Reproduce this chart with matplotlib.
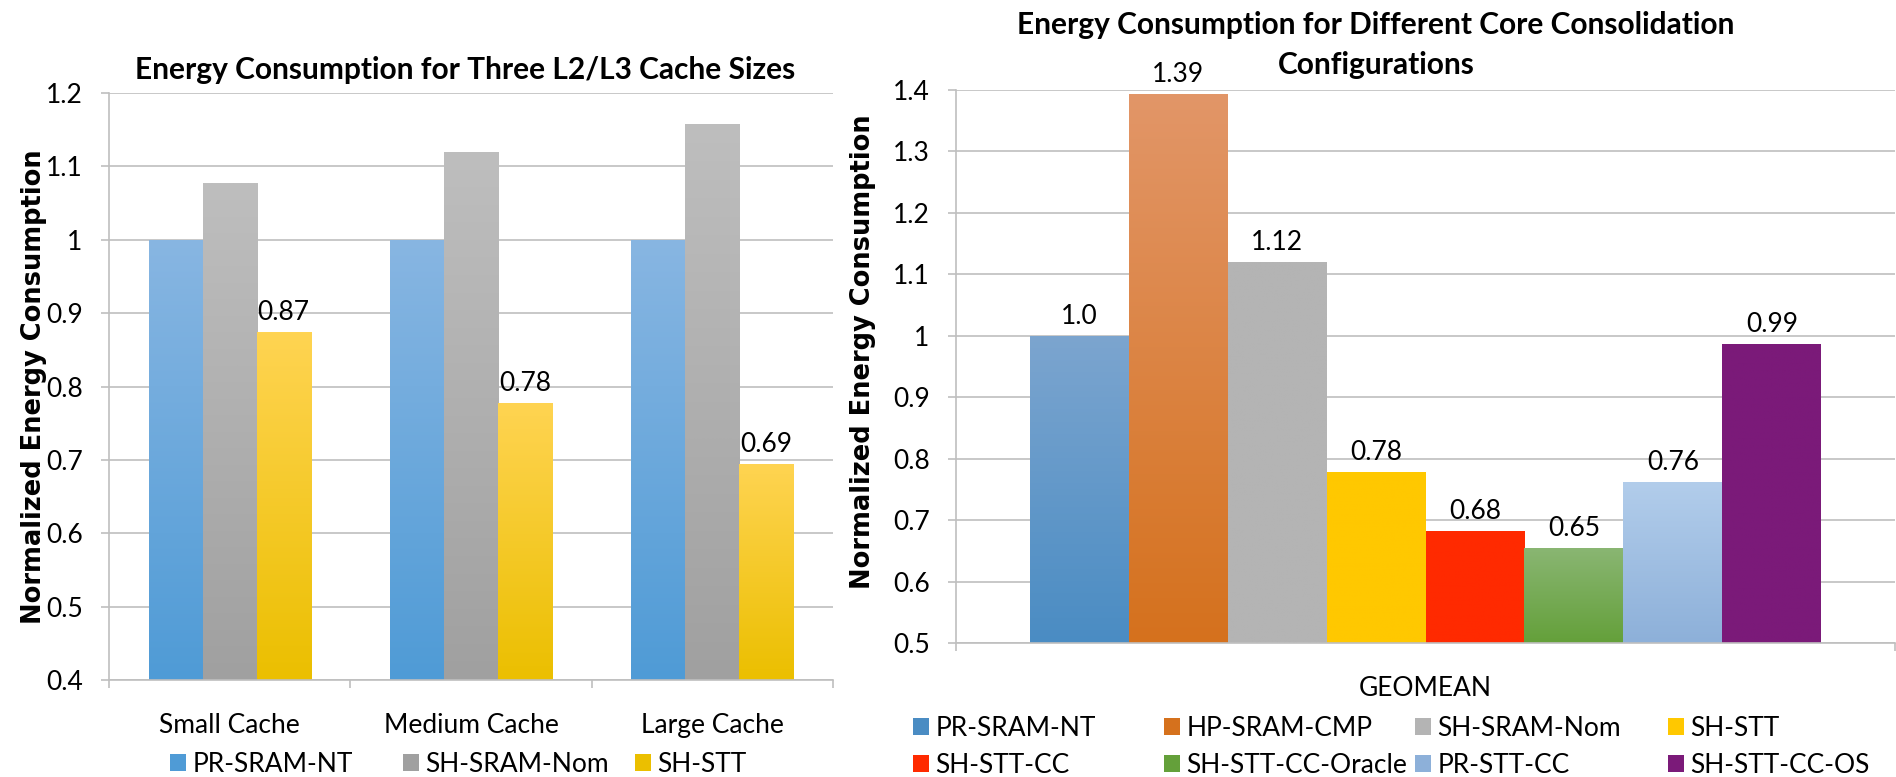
import numpy as np
import matplotlib
matplotlib.use("Agg")
import matplotlib.pyplot as plt
from matplotlib.colors import LinearSegmentedColormap
from matplotlib.patches import Patch
from matplotlib.ticker import MultipleLocator, FuncFormatter

plt.rcParams["font.family"] = ["Lato", "DejaVu Sans"]

# ---- left chart data ----
cache_sizes = ["Small Cache", "Medium Cache", "Large Cache"]
left_series = ["PR-SRAM-NT", "SH-SRAM-Nom", "SH-STT"]
pr_sram_nt = [1.0, 1.0, 1.0]
sh_sram_nom = [1.077, 1.120, 1.158]
sh_stt = [0.874, 0.778, 0.695]
sh_stt_labels = ["0.87", "0.78", "0.69"]

# ---- right chart data ----
configs = ["PR-SRAM-NT", "HP-SRAM-CMP", "SH-SRAM-Nom", "SH-STT",
           "SH-STT-CC", "SH-STT-CC-Oracle", "PR-STT-CC", "SH-STT-CC-OS"]
geomean = [1.0, 1.393, 1.12, 0.779, 0.683, 0.655, 0.762, 0.987]
geomean_labels = ["1.0", "1.39", "1.12", "0.78", "0.68", "0.65", "0.76", "0.99"]

# (top colour, bottom colour) per series
left_colors = [("#88b6e2", "#4f9bd6"), ("#bebebe", "#a0a0a0"), ("#ffd452", "#ebbf00")]
right_colors = [("#7ca5cf", "#4a8cc3"), ("#e29668", "#d5711d"), ("#b4b4b4", "#b4b4b4"),
                ("#ffc800", "#ffc800"), ("#ff2a00", "#ff2a00"), ("#8ab673", "#64a03a"),
                ("#b2cdeb", "#8db0d9"), ("#7b1a79", "#7b1a79")]

GRID = "#bfbfbf"
TICK_FS = 19
YLAB_FS = 18.5


def grad_fill(ax, bars, top, bottom):
    cmap = LinearSegmentedColormap.from_list("g", [bottom, top])
    grad = np.linspace(0, 1, 256).reshape(-1, 1)
    for p in bars:
        x, y = p.get_xy()
        w, h = p.get_width(), p.get_height()
        im = ax.imshow(grad, extent=[x, x + w, y, y + h], origin="lower",
                       cmap=cmap, aspect="auto", zorder=p.get_zorder() + 0.1)
        im.set_clip_path(p)


def tick_fmt(v, _):
    if abs(v - round(v)) < 1e-9:
        return f"{int(round(v))}"
    return f"{v:.1f}"


def style_axes(ax, ymin, ymax, ncat):
    ax.set_ylim(ymin, ymax)
    ax.set_xlim(-0.5, ncat - 0.5)
    ax.yaxis.set_major_locator(MultipleLocator(0.1))
    ax.yaxis.set_major_formatter(FuncFormatter(tick_fmt))
    ax.grid(axis="y", color=GRID, linewidth=1.2, zorder=0)
    ax.set_axisbelow(True)
    for s in ("top", "right"):
        ax.spines[s].set_visible(False)
    for s in ("left", "bottom"):
        ax.spines[s].set_color(GRID)
        ax.spines[s].set_linewidth(1.2)
    ax.tick_params(axis="y", direction="out", length=6, width=1.2, color=GRID,
                   labelsize=TICK_FS, pad=13)
    ax.set_xticks(range(ncat))
    ax.tick_params(axis="x", which="major", length=0, labelsize=TICK_FS, pad=24)
    ax.set_xticks(np.arange(-0.5, ncat, 1.0), minor=True)
    ax.tick_params(axis="x", which="minor", direction="out", length=6, width=1.2, color=GRID)


fig = plt.figure(figsize=(18.96, 7.77), dpi=100)

# ---------------- left ----------------
axl = fig.add_axes([0.0575, 0.1248, 0.4393 - 0.0575, 0.8803 - 0.1248])
ymin_l = 0.4
x = np.arange(len(cache_sizes))
w = 0.224
left_vals = [pr_sram_nt, sh_sram_nom, sh_stt]
left_bars = []
for i, (vals, (c_top, c_bot)) in enumerate(zip(left_vals, left_colors)):
    b = axl.bar(x + (i - 1) * w, np.array(vals) - ymin_l, w, bottom=ymin_l,
                color=c_top, zorder=2, linewidth=0)
    grad_fill(axl, b, c_top, c_bot)
    left_bars.append(b)
axl.bar_label(left_bars[2], labels=sh_stt_labels, padding=5, fontsize=TICK_FS, zorder=5)
style_axes(axl, 0.4, 1.2, len(cache_sizes))
axl.set_xticklabels(cache_sizes)
axl.set_ylabel("Normalized Energy Consumption", fontsize=YLAB_FS, fontweight="bold",
               family="DejaVu Sans")
axl.yaxis.set_label_coords(-0.085, 0.5)
fig.text(0.2453, 0.91, "Energy Consumption for Three L2/L3 Cache Sizes",
         ha="center", va="center", fontsize=21.5, fontweight="bold")

leg_x_left = [170, 403, 635]
for name, (c_top, c_bot), xp in zip(left_series, left_colors, leg_x_left):
    fig.legend(handles=[Patch(facecolor=c_bot, edgecolor="none", label=name)],
               loc="center left", bbox_to_anchor=(xp / 1896, 1 - 764 / 777),
               frameon=False, fontsize=TICK_FS, handlelength=0.6, handleheight=0.6,
               handletextpad=0.25, borderpad=0, borderaxespad=0)

# ---------------- right ----------------
axr = fig.add_axes([0.5042, 0.1725, 0.9995 - 0.5042, 0.8842 - 0.1725])
ymin_r = 0.5
wr = 0.1054
n = len(configs)
offsets = (np.arange(n) - (n - 1) / 2) * wr
for i in range(n):
    c_top, c_bot = right_colors[i]
    b = axr.bar([offsets[i]], [geomean[i] - ymin_r], wr, bottom=ymin_r,
                color=c_top, zorder=2, linewidth=0)
    grad_fill(axr, b, c_top, c_bot)
    axr.bar_label(b, labels=[geomean_labels[i]], padding=5, fontsize=TICK_FS, zorder=5)
style_axes(axr, 0.5, 1.4, 1)
axr.set_xticklabels(["GEOMEAN"])
axr.set_ylabel("Normalized Energy Consumption", fontsize=YLAB_FS, fontweight="bold",
               family="DejaVu Sans")
axr.yaxis.set_label_coords(-0.085, 0.526)
fig.text(0.7257, 1 - 25 / 777, "Energy Consumption for Different Core Consolidation",
         ha="center", va="center", fontsize=21.5, fontweight="bold")
fig.text(0.7257, 1 - 65 / 777, "Configurations",
         ha="center", va="center", fontsize=21.5, fontweight="bold")

leg_x_right = [913, 1164, 1415, 1668]
for col, xp in enumerate(leg_x_right):
    hs = []
    for row in range(2):
        k = row * 4 + col
        hs.append(Patch(facecolor=right_colors[k][1], edgecolor="none", label=configs[k]))
    fig.legend(handles=hs, loc="center left",
               bbox_to_anchor=(xp / 1896, 1 - 747 / 777),
               frameon=False, fontsize=TICK_FS, handlelength=0.6, handleheight=0.6,
               handletextpad=0.25, borderpad=0, borderaxespad=0, labelspacing=0.45)

fig.savefig("out.png", dpi=100)
